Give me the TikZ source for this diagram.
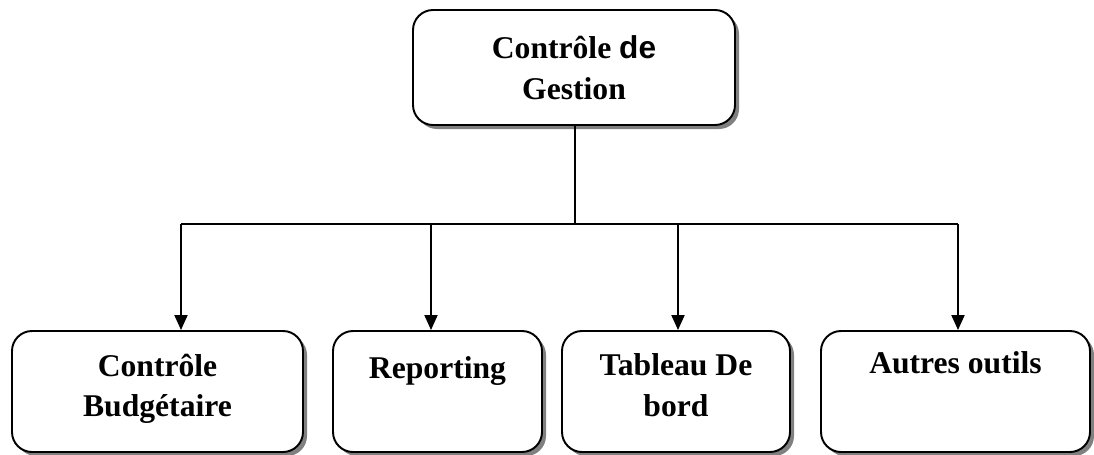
\documentclass[tikz,border=0pt]{standalone}
\usepackage{fontspec}
\setmainfont{Liberation Serif}
\newfontfamily\arialfont{Liberation Sans}
\usetikzlibrary{positioning,shadows,arrows.meta}

\begin{document}
\begin{tikzpicture}[> = {Triangle[length=3mm,width=2.6mm]}, line width=1.1pt]
    \tikzstyle{boite}=[rectangle, draw, rounded corners=0.4cm, fill=white,
        drop shadow={shadow xshift=0.08cm, shadow yshift=-0.08cm, opacity=1, fill=black!50}]
    \tikzstyle{texte}=[inner sep=0pt, align=center, font=\bfseries\fontsize{18}{23}\selectfont]

    \useasboundingbox (0,0) rectangle (21.88,9.08);

    % Boîtes
    \node[boite, texte, minimum width=6.44cm, minimum height=2.30cm] (cg) at (11.48,7.73)
        {Contrôle {\arialfont de}\\Gestion};
    \node[boite, minimum width=5.82cm, minimum height=2.42cm] (cb) at (3.15,1.25) {};
    \node[boite, minimum width=4.18cm, minimum height=2.42cm] (rep) at (8.75,1.25) {};
    \node[boite, minimum width=4.56cm, minimum height=2.42cm] (tdb) at (13.52,1.25) {};
    \node[boite, minimum width=5.38cm, minimum height=2.42cm] (ao) at (19.11,1.25) {};

    % Textes
    \node[texte, below=0.46cm of cb.north] {Contrôle\\Budgétaire};
    \node[texte, below=0.52cm of rep.north] {Reporting};
    \node[texte, below=0.46cm of tdb.north] {Tableau De\\bord};
    \node[texte, below=0.42cm of ao.north] {Autres outils};

    % Liaisons
    \coordinate (j0) at (11.50,4.60);
    \coordinate (j1) at (3.62,4.60);
    \coordinate (j2) at (8.62,4.60);
    \coordinate (j3) at (13.56,4.60);
    \coordinate (j4) at (19.16,4.60);

    \draw (cg.south -| j0) -- (j0);
    \draw (j1) -- (j4);
    \draw[->] (j1) -- (j1 |- cb.north);
    \draw[->] (j2) -- (j2 |- rep.north);
    \draw[->] (j3) -- (j3 |- tdb.north);
    \draw[->] (j4) -- (j4 |- ao.north);
\end{tikzpicture}
\end{document}
